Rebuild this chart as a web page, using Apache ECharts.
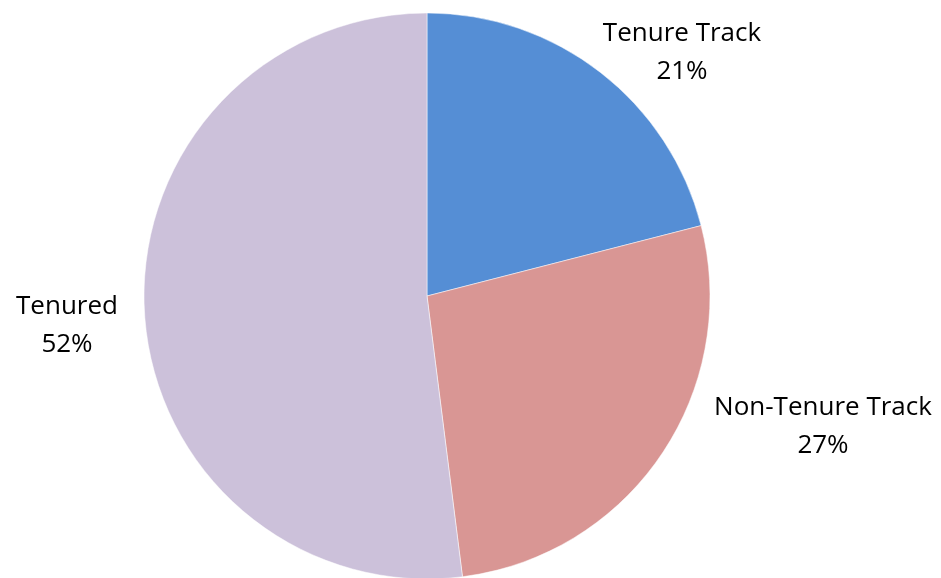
<!DOCTYPE html>
<html>
<head>
<meta charset="utf-8">
<script src="https://cdn.jsdelivr.net/npm/echarts@6/dist/echarts.min.js"></script>
<style>
  html, body { margin: 0; padding: 0; background: #fff; }
  #chart { width: 941px; height: 578px; }
</style>
</head>
<body>
<div id="chart"></div>
<script>
// Faculty appointment types (percent of total)
const categories = ['Tenure Track', 'Non-Tenure Track', 'Tenured'];
const shares = [21, 27, 52];
const colors = ['#558ED5', '#D99694', '#CCC1DA'];

// Where each label's text block is centred
const labelSpots = [[682, 53], [823, 427], [67, 326]];

const chart = echarts.init(document.getElementById('chart'));
chart.setOption({
  animation: false,
  series: [{
    type: 'pie',
    center: [427, 296],
    radius: 283,
    startAngle: 90,
    clockwise: true,
    data: categories.map((name, i) => ({
      name,
      value: shares[i],
      itemStyle: { color: colors[i] }
    })),
    itemStyle: { borderColor: '#ffffff', borderWidth: 0.5 },
    label: {
      show: true,
      position: 'outside',
      formatter: p => p.name + '\n' + p.value + '%',
      fontFamily: 'Open Sans',
      fontSize: 26,
      lineHeight: 38,
      color: '#000000',
      align: 'center',
      overflow: 'none',
      width: 300
    },
    labelLine: { show: false },
    labelLayout: params => {
      const spot = labelSpots[params.dataIndex];
      return { x: spot[0], y: spot[1], align: 'center', verticalAlign: 'middle' };
    }
  }]
});
</script>
</body>
</html>
